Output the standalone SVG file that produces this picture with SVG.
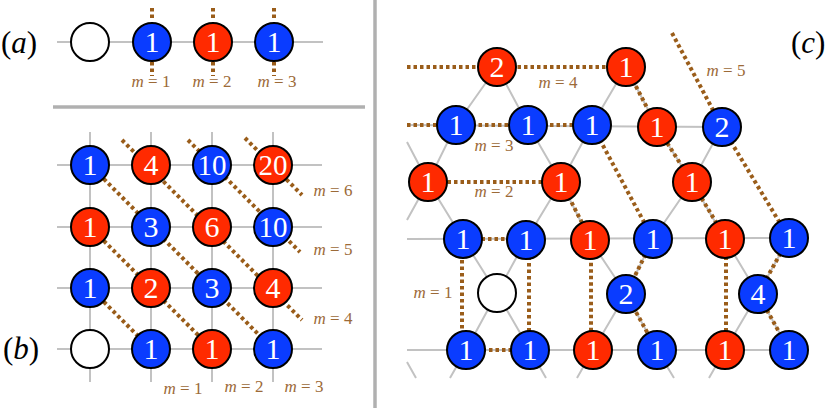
<svg xmlns="http://www.w3.org/2000/svg" width="831" height="413" viewBox="0 0 831 413">
<style>
.g{stroke:#c2c2c2;stroke-width:2;fill:none}
.d{stroke:#9a5d1a;stroke-width:4;stroke-dasharray:3.5 3;fill:none}
.sep{stroke:#b0b0b0;stroke-width:3.5;fill:none}
circle{stroke:#000;stroke-width:2}
.b{fill:#0a3cff}
.r{fill:#ff2a00}
.w{fill:#fff}
text{font-family:'Liberation Serif','DejaVu Serif','Times New Roman',serif}
.t{font-size:30px;fill:#fff;text-anchor:middle}
.lab{font-size:17px;fill:#9c6a38;text-anchor:middle}
.pl{font-size:31px;fill:#000}
</style>
<g id="separators">
<line class="sep" x1="53" y1="107" x2="365" y2="107"/>
<line class="sep" x1="375" y1="0" x2="375" y2="408"/>
</g>
<g id="labels">
<text class="pl" x="1" y="53">(<tspan font-style="italic">a</tspan>)</text>
<text class="pl" x="3" y="359">(<tspan font-style="italic">b</tspan>)</text>
<text class="pl" x="791" y="53">(<tspan font-style="italic">c</tspan>)</text>
<text class="lab" x="151" y="87"><tspan font-style="italic">m</tspan> = 1</text>
<text class="lab" x="212" y="87"><tspan font-style="italic">m</tspan> = 2</text>
<text class="lab" x="277" y="87"><tspan font-style="italic">m</tspan> = 3</text>
<text class="lab" x="183" y="394"><tspan font-style="italic">m</tspan> = 1</text>
<text class="lab" x="244" y="392"><tspan font-style="italic">m</tspan> = 2</text>
<text class="lab" x="304" y="392"><tspan font-style="italic">m</tspan> = 3</text>
<text class="lab" x="333" y="324"><tspan font-style="italic">m</tspan> = 4</text>
<text class="lab" x="333" y="255"><tspan font-style="italic">m</tspan> = 5</text>
<text class="lab" x="333" y="196"><tspan font-style="italic">m</tspan> = 6</text>
<text class="lab" x="433" y="298"><tspan font-style="italic">m</tspan> = 1</text>
<text class="lab" x="494" y="197"><tspan font-style="italic">m</tspan> = 2</text>
<text class="lab" x="494" y="151"><tspan font-style="italic">m</tspan> = 3</text>
<text class="lab" x="558" y="88"><tspan font-style="italic">m</tspan> = 4</text>
<text class="lab" x="726" y="76"><tspan font-style="italic">m</tspan> = 5</text>
</g>
<g id="connectors">
<line class="g" x1="57" y1="42" x2="323" y2="42"/>
<path class="d" d="M152,8V21M152,62V76M213,8V21M213,62V76M274,8V21M274,62V76"/>
<path class="g" d="M57,165H322M57,227H322M57,288H322M57,349H322M90,132V382M151,132V382M212,132V382M273,132V382"/>
<path class="d" d="M122,140L302,320M188,140L300,252M245,138L302,195M90,165L273,349M90,227L212,349M90,288L151,349"/>
<path class="g" d="M407,125L722,127M407,239L789,238M407,350L789,350
M497,67L456,125L428,182L407,220
M626,67L592,125L561,182L526,240L497,293L466,350L450,378
M722,127L692,182L653,239L626,294L593,350L577,378
M789,238L758,294L725,350L709,378
M407,142L428,182L463,239L497,293L530,350L546,378
M497,67L528,125L561,182L590,240L626,294L657,350L674,378
M626,67L657,127L692,182L725,239L758,294L789,350
M407,362L416,378"/>
<path class="d" d="M462,239H529V350H462Z
M428,182H561L591,240V350
M407,125H592L653,239L626,294L657,350
M407,67H626L657,127L692,182L726,239V350
M672,33L722,127L789,238L758,294L789,350"/>
</g>
<g id="nodes-a">
<g id="a0"><circle class="w" cx="90" cy="42" r="19"/></g>
<g id="a1"><circle class="b" cx="152" cy="42" r="19"/><text class="t" x="152" y="52">1</text></g>
<g id="a2"><circle class="r" cx="213" cy="42" r="19"/><text class="t" x="213" y="52">1</text></g>
<g id="a3"><circle class="b" cx="274" cy="42" r="19"/><text class="t" x="274" y="52">1</text></g>
</g>
<g id="nodes-b">
<g id="b11"><circle class="b" cx="90" cy="165" r="19"/><text class="t" x="90" y="175">1</text></g>
<g id="b12"><circle class="r" cx="151" cy="165" r="19"/><text class="t" x="151" y="175">4</text></g>
<g id="b13"><circle class="b" cx="212" cy="165" r="19"/><text class="t" x="212" y="175" textLength="29" lengthAdjust="spacingAndGlyphs">10</text></g>
<g id="b14"><circle class="r" cx="273" cy="165" r="19"/><text class="t" x="273" y="175" textLength="29" lengthAdjust="spacingAndGlyphs">20</text></g>
<g id="b21"><circle class="r" cx="90" cy="227" r="19"/><text class="t" x="90" y="237">1</text></g>
<g id="b22"><circle class="b" cx="151" cy="227" r="19"/><text class="t" x="151" y="237">3</text></g>
<g id="b23"><circle class="r" cx="212" cy="227" r="19"/><text class="t" x="212" y="237">6</text></g>
<g id="b24"><circle class="b" cx="273" cy="227" r="19"/><text class="t" x="273" y="237" textLength="29" lengthAdjust="spacingAndGlyphs">10</text></g>
<g id="b31"><circle class="b" cx="90" cy="288" r="19"/><text class="t" x="90" y="298">1</text></g>
<g id="b32"><circle class="r" cx="151" cy="288" r="19"/><text class="t" x="151" y="298">2</text></g>
<g id="b33"><circle class="b" cx="212" cy="288" r="19"/><text class="t" x="212" y="298">3</text></g>
<g id="b34"><circle class="r" cx="273" cy="288" r="19"/><text class="t" x="273" y="298">4</text></g>
<g id="b41"><circle class="w" cx="90" cy="349" r="19"/></g>
<g id="b42"><circle class="b" cx="151" cy="349" r="19"/><text class="t" x="151" y="359">1</text></g>
<g id="b43"><circle class="r" cx="212" cy="349" r="19"/><text class="t" x="212" y="359">1</text></g>
<g id="b44"><circle class="b" cx="273" cy="349" r="19"/><text class="t" x="273" y="359">1</text></g>
</g>
<g id="nodes-c">
<g id="cA0"><circle class="r" cx="497" cy="67" r="19"/><text class="t" x="497" y="77">2</text></g>
<g id="cA1"><circle class="r" cx="626" cy="67" r="19"/><text class="t" x="626" y="77">1</text></g>
<g id="cB1"><circle class="b" cx="456" cy="125" r="19"/><text class="t" x="456" y="135">1</text></g>
<g id="cB2"><circle class="b" cx="528" cy="125" r="19"/><text class="t" x="528" y="135">1</text></g>
<g id="cB3"><circle class="b" cx="592" cy="125" r="19"/><text class="t" x="592" y="135">1</text></g>
<g id="cB4"><circle class="r" cx="657" cy="127" r="19"/><text class="t" x="657" y="137">1</text></g>
<g id="cB5"><circle class="b" cx="722" cy="127" r="19"/><text class="t" x="722" y="137">2</text></g>
<g id="cC1"><circle class="r" cx="428" cy="182" r="19"/><text class="t" x="428" y="192">1</text></g>
<g id="cC2"><circle class="r" cx="561" cy="182" r="19"/><text class="t" x="561" y="192">1</text></g>
<g id="cC3"><circle class="r" cx="692" cy="182" r="19"/><text class="t" x="692" y="192">1</text></g>
<g id="cD1"><circle class="b" cx="463" cy="239" r="19"/><text class="t" x="463" y="249">1</text></g>
<g id="cD2"><circle class="b" cx="526" cy="240" r="19"/><text class="t" x="526" y="250">1</text></g>
<g id="cD3"><circle class="r" cx="590" cy="240" r="19"/><text class="t" x="590" y="250">1</text></g>
<g id="cD4"><circle class="b" cx="653" cy="239" r="19"/><text class="t" x="653" y="249">1</text></g>
<g id="cD5"><circle class="r" cx="725" cy="239" r="19"/><text class="t" x="725" y="249">1</text></g>
<g id="cD6"><circle class="b" cx="789" cy="238" r="19"/><text class="t" x="789" y="248">1</text></g>
<g id="cE1"><circle class="w" cx="497" cy="293" r="19"/></g>
<g id="cE2"><circle class="b" cx="626" cy="294" r="19"/><text class="t" x="626" y="304">2</text></g>
<g id="cE3"><circle class="b" cx="758" cy="294" r="19"/><text class="t" x="758" y="304">4</text></g>
<g id="cF1"><circle class="b" cx="466" cy="350" r="19"/><text class="t" x="466" y="360">1</text></g>
<g id="cF2"><circle class="b" cx="530" cy="350" r="19"/><text class="t" x="530" y="360">1</text></g>
<g id="cF3"><circle class="r" cx="593" cy="350" r="19"/><text class="t" x="593" y="360">1</text></g>
<g id="cF4"><circle class="b" cx="657" cy="350" r="19"/><text class="t" x="657" y="360">1</text></g>
<g id="cF5"><circle class="r" cx="725" cy="350" r="19"/><text class="t" x="725" y="360">1</text></g>
<g id="cF6"><circle class="b" cx="789" cy="350" r="19"/><text class="t" x="789" y="360">1</text></g>
</g>
</svg>
